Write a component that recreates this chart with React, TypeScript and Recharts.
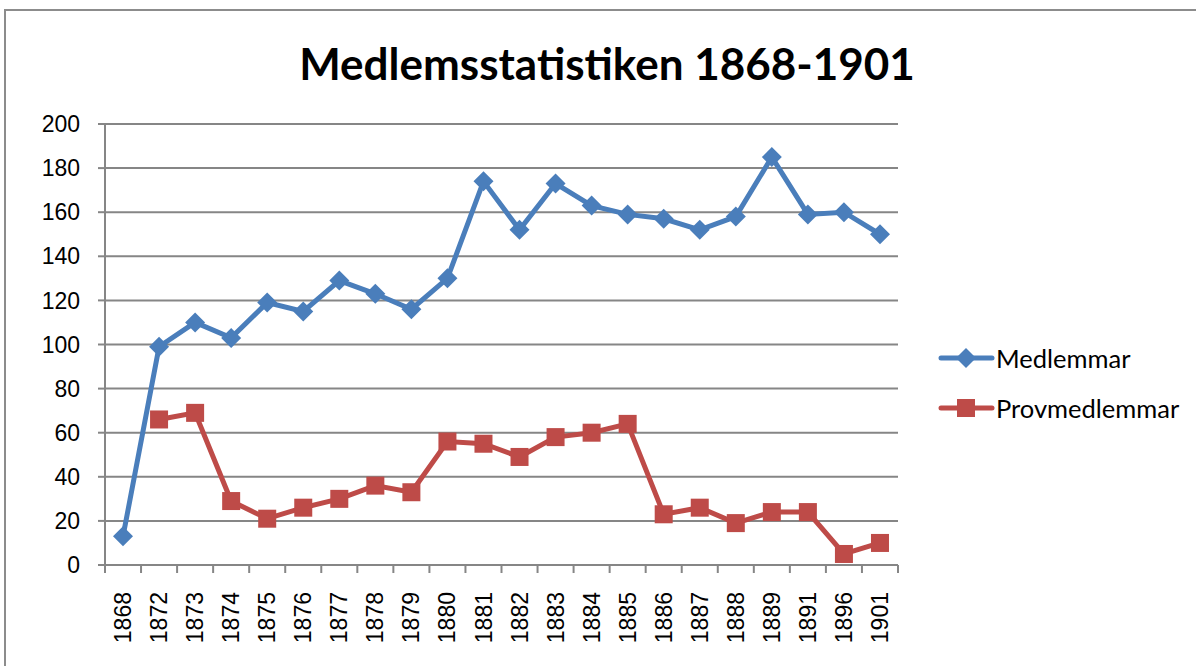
import React from 'react';
import { LineChart, Line, XAxis, YAxis, CartesianGrid } from 'recharts';

const years = ['1868', '1872', '1873', '1874', '1875', '1876', '1877', '1878', '1879', '1880', '1881', '1882', '1883', '1884', '1885', '1886', '1887', '1888', '1889', '1891', '1896', '1901'];
const medlemmar = [13, 99, 110, 103, 119, 115, 129, 123, 116, 130, 174, 152, 173, 163, 159, 157, 152, 158, 185, 159, 160, 150];
const provmedlemmar = [null, 66, 69, 29, 21, 26, 30, 36, 33, 56, 55, 49, 58, 60, 64, 23, 26, 19, 24, 24, 5, 10];
const yTicks = [0, 20, 40, 60, 80, 100, 120, 140, 160, 180, 200];

const data = years.map((year, i) => ({
  year,
  Medlemmar: medlemmar[i],
  Provmedlemmar: provmedlemmar[i],
}));

const BLUE = '#4A7EBB';
const RED = '#BE4B48';
const AXIS = '#868686';
const PLOT_W = 793;
const band = PLOT_W / years.length;

const XTick = (props: any) => {
  const { x, y, payload, index } = props;
  const top = y - 8;
  return (
    <g>
      <line x1={x - band / 2} y1={top} x2={x - band / 2} y2={top + 8} stroke={AXIS} strokeWidth={2} />
      {index === years.length - 1 && (
        <line x1={x + band / 2} y1={top} x2={x + band / 2} y2={top + 8} stroke={AXIS} strokeWidth={2} />
      )}
      <text
        x={x}
        y={top + 27}
        dy="0.35em"
        transform={`rotate(-90, ${x}, ${top + 27})`}
        textAnchor="end"
        fill="#000"
        fontSize={23}
        fontFamily="Liberation Sans"
      >
        {payload.value}
      </text>
    </g>
  );
};

const Diamond = (props: any) => {
  const { cx, cy, index } = props;
  if (cx == null || cy == null) return <g key={`d${index}`} />;
  const r = 10;
  return <path key={`d${index}`} d={`M${cx},${cy - r}L${cx + r},${cy}L${cx},${cy + r}L${cx - r},${cy}Z`} fill={BLUE} />;
};

const Square = (props: any) => {
  const { cx, cy, index } = props;
  if (cx == null || cy == null) return <g key={`s${index}`} />;
  const h = 9;
  return <rect key={`s${index}`} x={cx - h} y={cy - h} width={h * 2} height={h * 2} fill={RED} />;
};

const legendItems = [
  { name: 'Medlemmar', color: BLUE, shape: 'diamond' },
  { name: 'Provmedlemmar', color: RED, shape: 'square' },
];

export default function App() {
  return (
    <div style={{ position: 'absolute', left: 0, top: 0, width: 1196, height: 666, overflow: 'hidden', background: '#fff' }}>
      <div
        style={{
          position: 'absolute',
          left: 4,
          top: 9,
          width: 1300,
          height: 800,
          borderTop: `2px solid #8c8c8c`,
          borderLeft: `2px solid #8c8c8c`,
        }}
      />
      <div
        style={{
          position: 'absolute',
          left: 0,
          top: 35,
          width: 1214,
          textAlign: 'center',
          fontFamily: 'Lato',
          fontWeight: 700,
          fontSize: 44,
          lineHeight: '56px',
          color: '#000',
        }}
      >
        Medlemsstatistiken 1868-1901
      </div>
      <div style={{ position: 'absolute', left: 0, top: 0 }}>
        <LineChart
          width={1196}
          height={666}
          data={data}
          margin={{ top: 124, right: 298, bottom: 0, left: 0 }}
        >
          <CartesianGrid vertical={false} stroke={AXIS} strokeWidth={2} />
          <XAxis
            dataKey="year"
            height={101}
            interval={0}
            padding={{ left: band / 2, right: band / 2 }}
            tickLine={false}
            tickSize={8}
            tickMargin={0}
            axisLine={{ stroke: AXIS, strokeWidth: 2 }}
            tick={<XTick />}
          />
          <YAxis
            width={105}
            domain={[0, 200]}
            ticks={yTicks}
            interval={0}
            tickSize={7}
            tickMargin={18}
            tickLine={{ stroke: AXIS, strokeWidth: 2 }}
            axisLine={{ stroke: AXIS, strokeWidth: 2 }}
            tick={{ fill: '#000', fontSize: 23, fontFamily: 'Liberation Sans' }}
          />
          <Line
            type="linear"
            dataKey="Medlemmar"
            stroke={BLUE}
            strokeWidth={5}
            dot={<Diamond />}
            activeDot={false}
            isAnimationActive={false}
          />
          <Line
            type="linear"
            dataKey="Provmedlemmar"
            stroke={RED}
            strokeWidth={5}
            dot={<Square />}
            activeDot={false}
            isAnimationActive={false}
          />
        </LineChart>
      </div>
      <div style={{ position: 'absolute', left: 938, top: 333, fontFamily: 'Lato', fontSize: 25.5, color: '#000' }}>
        {legendItems.map((item) => (
          <div key={item.name} style={{ display: 'flex', alignItems: 'center', height: 50 }}>
            <svg width={57} height={24}>
              <line x1={3} y1={12} x2={54} y2={12} stroke={item.color} strokeWidth={5} strokeLinecap="round" />
              {item.shape === 'diamond' ? (
                <path d="M28,2L38,12L28,22L18,12Z" fill={item.color} />
              ) : (
                <rect x={19} y={3} width={18} height={18} fill={item.color} />
              )}
            </svg>
            <span style={{ marginLeft: 1 }}>{item.name}</span>
          </div>
        ))}
      </div>
    </div>
  );
}
